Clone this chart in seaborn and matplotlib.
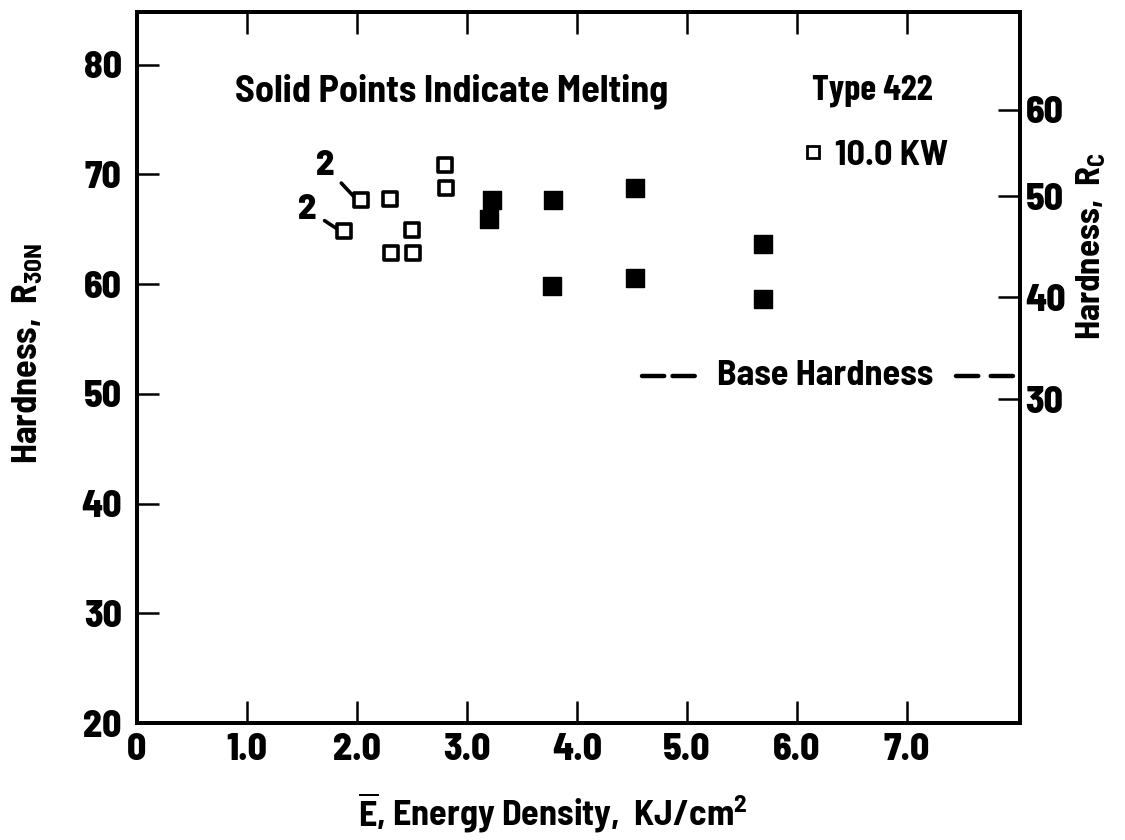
import matplotlib
matplotlib.use("Agg")
import matplotlib.pyplot as plt
from matplotlib import font_manager as fm
from matplotlib.lines import Line2D
import seaborn as sns
import pandas as pd

# ---------------- data ----------------
open_x = [1.88, 2.04, 2.30, 2.31, 2.50, 2.51, 2.80, 2.81]
open_y = [64.8, 67.7, 67.8, 62.8, 64.9, 62.8, 70.9, 68.8]
filled_x = [3.20, 3.23, 3.77, 3.78, 4.53, 4.53, 5.69, 5.69]
filled_y = [65.9, 67.7, 59.8, 67.7, 68.8, 60.6, 58.6, 63.7]
count_labels = ["2", "2"]
base_hardness = 51.6
x_ticks = [0, 1, 2, 3, 4, 5, 6, 7]
x_tick_labels = ["0", "1.0", "2.0", "3.0", "4.0", "5.0", "6.0", "7.0"]
y_ticks = [20, 30, 40, 50, 60, 70, 80]
rc_labels = ["60", "50", "40", "30"]
rc_pos = [75.9, 68.0, 58.8, 49.5]

sns.set_style("ticks")
names = {f.name for f in fm.fontManager.ttflist}


def pick(cands):
    for c in cands:
        if c in names:
            return c
    return "DejaVu Sans"


fam = pick(["Barlow Semi Condensed", "Barlow Condensed", "Asap Condensed"])
fam_c = pick(["Barlow Condensed", "Barlow Semi Condensed", "Asap Condensed"])
plt.rcParams["font.family"] = [fam, "DejaVu Sans"]
plt.rcParams["font.weight"] = "bold"
plt.rcParams["mathtext.fontset"] = "custom"
plt.rcParams["mathtext.rm"] = f"{fam}:bold"
plt.rcParams["mathtext.bf"] = f"{fam}:bold"
plt.rcParams["mathtext.it"] = f"{fam}:bold"
plt.rcParams["lines.scale_dashes"] = False
for k in ["text.color", "axes.labelcolor", "xtick.color", "ytick.color",
          "axes.edgecolor"]:
    plt.rcParams[k] = "black"

FS = 26
TFS = 27
fig = plt.figure(figsize=(11.25, 8.4), dpi=100)
ax = fig.add_axes([137/1125, 1 - 723/840, 883/1125, 711/840])

df_open = pd.DataFrame({"E": open_x, "H": open_y})
df_fill = pd.DataFrame({"E": filled_x, "H": filled_y})
sns.scatterplot(data=df_open, x="E", y="H", ax=ax, marker="s", s=115,
                facecolor="white", edgecolor="black", linewidth=2.6, zorder=3)
sns.scatterplot(data=df_fill, x="E", y="H", ax=ax, marker="s", s=185,
                color="black", edgecolor="black", linewidth=1, zorder=3)

# "2" count annotations (upper one belongs to point 1, lower to point 0)
offsets = [(-0.33, 3.1), (-0.33, 2.0)]
for lab, i, (dx, dy) in zip(count_labels, [1, 0], offsets):
    px, py = open_x[i], open_y[i]
    ax.annotate(lab, xy=(px - 0.07, py + 0.3), xytext=(px + dx, py + dy),
                fontsize=FS, fontweight=800, ha="center", va="center",
                arrowprops=dict(arrowstyle="-", lw=2.6, color="black",
                                shrinkA=4, shrinkB=0))

ax.set_xlim(0, 8.03)
ax.set_ylim(20, 84.8)
ax.set_xticks(x_ticks)
ax.set_xticklabels(x_tick_labels)
ax.set_yticks(y_ticks)
ax.set_yticklabels([str(v) for v in y_ticks])
for s in ax.spines.values():
    s.set_linewidth(2.8)
    s.set_visible(True)
    s.set_color("black")
ax.tick_params(axis="both", direction="in", length=16, width=1.8,
               labelsize=TFS)
ax.tick_params(axis="x", top=True, labeltop=False, pad=7)
ax.tick_params(axis="y", pad=11)
ax.xaxis.get_major_ticks()[0].tick1line.set_visible(False)
ax.xaxis.get_major_ticks()[0].tick2line.set_visible(False)
ax.yaxis.get_major_ticks()[0].tick1line.set_visible(False)
for t in ax.get_xticklabels() + ax.get_yticklabels():
    t.set_fontweight(800)

ax.set_xlabel(r"$\overline{\mathrm{E}}$, Energy Density,  KJ/cm$^{\mathrm{2}}$",
              fontsize=FS, fontweight="bold")
ax.xaxis.set_label_coords(0.471, -0.095)
ax.set_ylabel(r"Hardness,  R$_{\mathrm{30N}}$", fontsize=FS, fontweight="bold")
ax.yaxis.set_label_coords(-0.104, 0.52)

# right Rc scale
ax2 = ax.twinx()
ax2.set_ylim(ax.get_ylim())
ax2.set_yticks(rc_pos)
ax2.set_yticklabels(rc_labels)
ax2.tick_params(axis="y", direction="in", length=16, width=1.8,
                labelsize=TFS, pad=4)
for t in ax2.get_yticklabels():
    t.set_fontweight(800)
for s in ax2.spines.values():
    s.set_linewidth(2.8)
    s.set_color("black")
ax2.set_ylabel(r"Hardness,  R$_{\mathrm{C}}$", fontsize=FS - 1,
               fontweight="bold")
ax2.yaxis.set_label_coords(1.062, 0.67)

# base hardness line
ax.plot([4.59, 5.08], [base_hardness, base_hardness], color="black", lw=3.2,
        dashes=(16, 6), dash_capstyle="round")
ax.plot([7.45, 8.03], [base_hardness, base_hardness], color="black", lw=3.2,
        dashes=(16, 9), dash_capstyle="round")
ax.text(5.27, base_hardness, "Base Hardness", fontsize=FS, fontweight="bold",
        ha="left", va="center")

ax.text(0.89, 77.6, "Solid Points Indicate Melting", fontsize=FS + 1.5,
        fontweight="bold", ha="left", va="center")
ax.text(6.14, 77.6, "Type 422", fontsize=FS, fontweight="bold",
        family=[fam_c, "DejaVu Sans"], ha="left", va="center")

h = Line2D([], [], marker="s", ls="none", markersize=8, mfc="white",
           mec="black", mew=2)
ax.legend([h], ["10.0 KW"], loc="center left", frameon=False,
          bbox_to_anchor=(6.05, 71.7), bbox_transform=ax.transData,
          prop={"family": fam, "weight": "bold", "size": FS},
          handlelength=0.6, handletextpad=0.3, borderpad=0, borderaxespad=0)

fig.savefig("out.png", dpi=100)
